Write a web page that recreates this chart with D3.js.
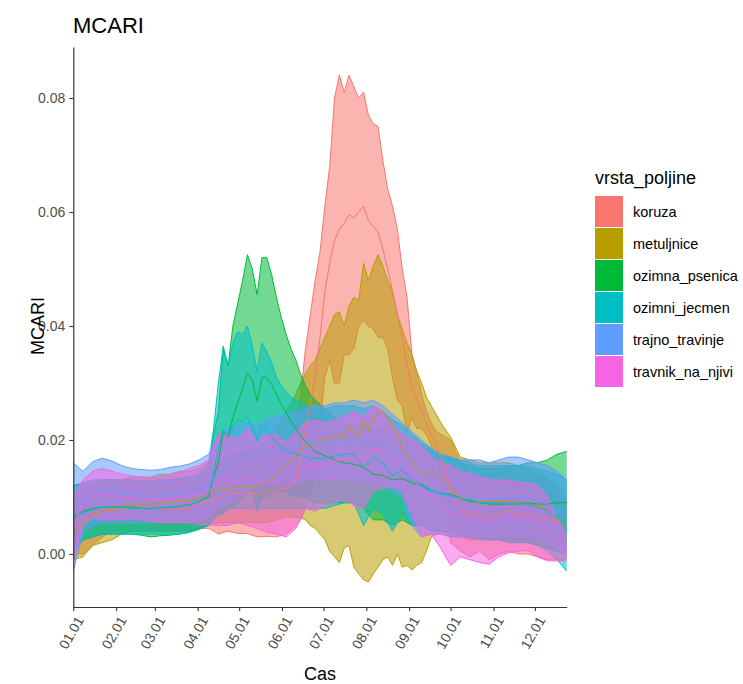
<!DOCTYPE html>
<html><head><meta charset="utf-8">
<script src="https://cdn.jsdelivr.net/npm/d3@7"></script>
<style>body{margin:0;background:#fff} text{font-family:"Liberation Sans", Arial, sans-serif}</style>
</head><body><svg id="c" width="743" height="684"></svg>
<script>
// day offsets from 1 January
const weekly_days = [0,7,14,21,28,35,42,49,56,63,70,77,84,91,98,105,112,119,126,133,140,147,154,161,168,175,182,189,196,203,210,217,224,231,238,245,252,259,266,273,280,287,294,301,308,315,322,329,336,343,350,357];
const summer_days = [0,7,14,21,28,35,42,49,56,63,70,77,84,91,98,105,112,119,126,133,140,147,154,161,164.5,168,171.5,175,178.5,182,185.5,189,192.5,196,199.5,203,206.5,210,213.5,217,220.5,224,227.5,231,234.5,238,241.5,245,248.5,252,255.5,259,262.5,266,273,280,287,294,301,308,315,322,329,336,343,350,357];
const spring_days = [0,7,14,21,28,35,42,49,56,63,70,77,84,91,98,101.5,105,108.5,112,115.5,119,122.5,126,129.5,133,136.5,140,143.5,147,150.5,154,157.5,161,164.5,168,171.5,175,182,189,196,203,210,217,224,231,238,245,252,259,266,273,280,287,294,301,308,315,322,329,336,343,350,357];
const categories = ["koruza","metuljnice","ozimna_psenica","ozimni_jecmen","trajno_travinje","travnik_na_njivi"];
const colors = ["#F8766D","#B79F00","#00BA38","#00BFC4","#619CFF","#F564E3"];
// MCARI values x1000 (mean and standard deviation)
const koruza_mean = [4.5,5.5,6.75,7.5,8,8,8,8,8,8,8,8,8,8.75,9.25,9.75,10.5,10.8,10.8,10.5,10.8,11,11.5,
  13,17,22,26,31,38,46,51,55,57,58,59.5,59,60,61,58.5,57.5,56.5,53.5,50,46,42,38,33,29.5,27,25,23,21,19,17,
  11,8.25,6.75,7.25,6.5,7.25,7.5,7,7,6.5,6,5.5,5];
const koruza_sd = [4.5,5.5,5.25,4.5,4,4,4,4,4,4,4,4,4,4.25,4.75,6.25,6.5,7.2,7.2,7.5,7.7,8,8,
  8,11,14,16,17,15,15,17,25,27,23,24.5,23,20,20,18.5,18,18.5,15.5,14,15,15,12,12,5.5,5,3,2,2,2.5,4,
  9,7.75,7.25,6.75,7.5,7.25,7,7,7,7,7,6.5,6];
const metuljnice_mean = [3.5,5.25,7,7.5,7.75,8.25,8.75,8.75,8.75,9,9,9.35,9.35,9.75,10.5,11.25,11.5,11.75,11.75,12,12.5,14,15.75,
  17.25,18.15,18.85,19,19.25,19.75,20.25,20.25,20.75,20.5,20.5,22.5,21.35,20.5,23.25,21.55,23.5,25.1,24.75,23.75,22,21,18.6,17.5,16.1,15,14.25,14,14.5,14,13.25,
  11.75,10,9.5,9.25,9.25,9.25,9.25,9,8.75,8.5,7.75,6.25,5];
const metuljnice_sd = [4.5,5.75,5.5,5.5,5.25,4.75,4.75,4.75,4.75,5,5,5.15,5.15,5.25,5.5,5.75,6,6.25,6.25,6.5,7,8,9.25,
  10.75,11.85,12.85,14,14.75,16.25,17.75,19.75,21.25,22,19.5,21,23.65,24,27.75,26.45,27,27.4,25.75,24.25,24,21,20.9,19.5,18.9,17,15.75,13.5,11.5,10.5,9.75,
  8.75,7,7,6.75,6.75,6.75,6.75,6.5,6.25,6,5.75,4.75,4];
const ozimna_psenica_mean = [6.5,7.5,8,8.25,8.25,8.25,8.25,8.05,7.9,8.1,8.15,8.35,8.65,9.25,
  10,13.5,16,21.5,20.5,24,26.5,29,31.75,30.5,26.75,31,31,29.75,28,26.25,24.75,23.25,22,20.75,19.75,18.75,18,
  17.25,16.5,16,15.75,15.25,14,13.75,13,13.25,12.5,12,11,10.5,10.5,9.75,9.25,9,8.75,8.75,8.75,8.75,9,8.75,8.75,9,9];
const ozimna_psenica_sd = [5.5,5,5,4.75,4.75,4.75,4.75,4.75,4.9,4.9,4.85,4.85,4.85,4.75,
  5,7.5,9,14.5,12.5,16,17.5,19,20.75,19.5,18.75,21,21,19.25,17,15.25,13.75,12.75,12,10.75,9.75,9.25,9,
  8.25,7.5,7,6.75,7.25,8,7.75,8,7.25,7.5,7,7,6.5,6.5,6.25,6.25,6,6.25,6.25,6.75,6.75,7,7.25,7.75,8.5,9];
const ozimni_jecmen_mean = [6,7.25,7.75,8.25,8.25,8.15,8,8,8,8.15,8.25,8.35,8.65,9.15,
  10.5,14,18.5,21.75,20.5,22.5,23.5,23.25,24,22.25,19.75,22.5,21.75,20.75,19.5,18.75,18.25,17.75,17.5,17.25,17,16.75,16.75,
  16.75,17.25,17.5,17.5,15.25,17,16,13.75,14.75,13,12.25,11.25,10.75,10.25,9.75,9.5,9,9,9,8.75,8.75,8.75,8.25,7.5,6.5,5];
const ozimni_jecmen_sd = [6,4.75,4.75,4.75,4.75,4.65,4.5,4.5,4.5,4.65,4.75,4.85,4.85,4.85,
  5.5,8,11.5,14.75,12.5,14.5,15.5,15.25,16,14.25,12.25,14.5,13.75,12.75,11.5,10.75,10.25,9.75,9.5,9.25,9,8.75,8.75,
  8.75,8.75,8.5,8.5,10.25,9,9,9.75,7.75,8,7.25,7.25,6.75,6.75,6.75,6.5,6.5,6.5,6.5,6.75,6.75,6.75,6.75,7,7.5,8];
const trajno_travinje_mean = [6.5,9.25,10.6,11.15,10.9,10.5,10.25,10.15,10.1,10.15,10.35,10.45,10.65,11.25,12,14.5,15.5,16.25,17,17.25,18,18.25,18.5,18.75,19.25,19.5,19.5,19.75,19.75,20,19.5,19.75,19,17.75,16.5,13.25,11.5,11,10.5,10,9.75,9.75,9.75,9.5,9.75,10,10,9.75,9.25,8.75,7.75,6.5];
const trajno_travinje_sd = [9.5,5.25,5.6,5.65,5.4,5,4.75,4.65,4.6,4.65,4.85,4.95,5.15,5.25,5.5,6.5,6.5,6.25,6,5.25,5.5,5.75,6,6.25,6.25,6.5,6.5,6.75,6.75,7,7,7.25,7,6.75,6.5,8.25,8.5,7.5,7,7,6.75,6.75,6.75,6.5,6.75,7,7,6.75,6.75,6.75,6.75,6.5];
const travnik_na_njivi_mean = [4.5,9,10.5,10.5,10.25,10,9.95,9.75,9.55,9.5,9.75,9.9,10.25,10.35,10.85,13,13,12.75,13.5,12.25,12.4,12.25,11.25,13,15.5,15.5,15.75,16.25,16.75,16.75,16,18.5,18.25,17.15,16,13.5,11,10.25,8.5,6.75,7,6.5,6,5.6,6.25,6.6,6.5,6.55,5.75,4.4,2.4,0.9];
const travnik_na_njivi_sd = [5.5,4,4,4.5,4.25,4,3.75,3.75,3.75,4,4.25,4.4,4.75,5.15,5.65,8,8,7.25,8.5,7.75,8.6,8.75,8.25,8.5,7.5,8,7.25,7.25,7.25,8.25,8,7.5,6.75,5.35,5,6.5,8,6.75,7.5,8.75,7.5,7.5,7.5,7.4,6.75,6.4,6,5.95,6.25,5.6,3.6,2.1];
const yTicks = [0, 0.02, 0.04, 0.06, 0.08];
const xTickLabels = ["01.01","02.01","03.01","04.01","05.01","06.01","07.01","08.01","09.01","10.01","11.01","12.01"];
const UNIT = 0.001;

const dayLists = [summer_days, summer_days, spring_days, spring_days, weekly_days, weekly_days];
const means = [koruza_mean, metuljnice_mean, ozimna_psenica_mean, ozimni_jecmen_mean, trajno_travinje_mean, travnik_na_njivi_mean];
const sds = [koruza_sd, metuljnice_sd, ozimna_psenica_sd, ozimni_jecmen_sd, trajno_travinje_sd, travnik_na_njivi_sd];

const svg = d3.select("#c");
const T0 = Date.UTC(2019, 0, 1);
const date = d => new Date(T0 + d * 864e5);
const x = d3.scaleUtc().domain([date(0), date(357)]).range([73.3, 566.7]);
const y = d3.scaleLinear().domain([-0.0093, 0.08895]).range([607, 47]);

const series = categories.map((c, k) => {
  if (dayLists[k].length !== means[k].length || means[k].length !== sds[k].length)
    console.error("length mismatch", c, dayLists[k].length, means[k].length, sds[k].length);
  return { name: c, color: colors[k],
    pts: dayLists[k].map((d, i) => ({t: date(d), m: means[k][i] * UNIT, s: sds[k][i] * UNIT})) };
});

const area = d3.area().x(p => x(p.t)).y0(p => y(p.m - p.s)).y1(p => y(p.m + p.s));
const upper = d3.line().x(p => x(p.t)).y(p => y(p.m + p.s));
const lower = d3.line().x(p => x(p.t)).y(p => y(p.m - p.s));
const mid = d3.line().x(p => x(p.t)).y(p => y(p.m));

const gR = svg.append("g");
series.forEach(s => {
  gR.append("path").attr("d", area(s.pts)).attr("fill", s.color).attr("fill-opacity", 0.55).attr("stroke", "none");
  gR.append("path").attr("d", upper(s.pts)).attr("fill", "none").attr("stroke", s.color).attr("stroke-width", 1);
  gR.append("path").attr("d", lower(s.pts)).attr("fill", "none").attr("stroke", s.color).attr("stroke-width", 1);
});
const gL = svg.append("g");
series.forEach(s => {
  gL.append("path").attr("d", mid(s.pts)).attr("fill", "none").attr("stroke", s.color).attr("stroke-width", 1);
});

// axes
const yAxis = svg.append("g").attr("transform", "translate(73.3,0)")
  .call(d3.axisLeft(y).tickValues(yTicks).tickFormat(d3.format(".2f")).tickSize(4).tickSizeOuter(0));
const monthTicks = xTickLabels.map((l, i) => new Date(Date.UTC(2019, i, 1)));
const xAxis = svg.append("g").attr("transform", "translate(0,607)")
  .call(d3.axisBottom(x).tickValues(monthTicks).tickFormat("").tickSize(4).tickSizeOuter(0));
[yAxis, xAxis].forEach(a => {
  a.select(".domain").attr("stroke", "#333").attr("stroke-width", 1.2);
  a.selectAll(".tick line").attr("stroke", "#333").attr("stroke-width", 1.1);
});
yAxis.selectAll(".tick text").attr("fill", "#4D4D4D").style("font-size", "14px").attr("x", -8);
monthTicks.forEach((t, i) => {
  svg.append("text").attr("transform", `translate(${x(t) + 11},620) rotate(-60)`)
    .attr("text-anchor", "end").attr("fill", "#4D4D4D").style("font-size", "14px").text(xTickLabels[i]);
});

// titles
svg.append("text").attr("x", 73).attr("y", 33).style("font-size", "22px").attr("fill", "#000").text("MCARI");
svg.append("text").attr("transform", "translate(44,326) rotate(-90)").attr("text-anchor", "middle").style("font-size", "18px").attr("fill", "#000").text("MCARI");
svg.append("text").attr("x", 320).attr("y", 680).attr("text-anchor", "middle").style("font-size", "18px").attr("fill", "#000").text("Cas");

// legend
const lg = svg.append("g");
lg.append("text").attr("x", 595).attr("y", 184).style("font-size", "18px").attr("fill", "#000").text("vrsta_poljine");
categories.forEach((c, k) => {
  lg.append("rect").attr("x", 595).attr("y", 196 + k * 32).attr("width", 28).attr("height", 31).attr("fill", colors[k]);
  lg.append("text").attr("x", 633).attr("y", 196 + k * 32 + 21).style("font-size", "14.5px").attr("fill", "#000").text(c);
});
</script></body></html>
